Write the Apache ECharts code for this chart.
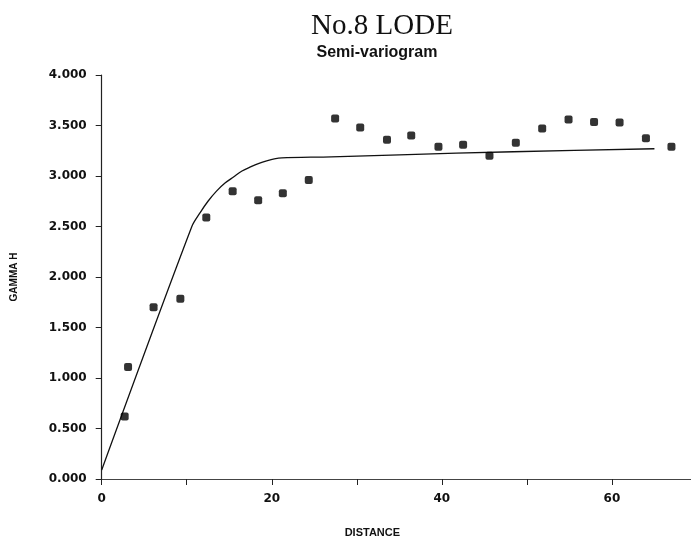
<!DOCTYPE html>
<html>
<head>
<meta charset="utf-8">
<script src="https://cdn.jsdelivr.net/npm/echarts@6/dist/echarts.min.js"></script>
<style>html,body{margin:0;padding:0;background:#fff;}#c{width:691px;height:543px;}</style>
</head>
<body>
<div id="c"></div>
<script>
// Observed semi-variogram points
var lagDistance = [2.7, 3.1, 6.1, 9.25, 12.3, 15.4, 18.4, 21.3, 24.35, 27.45, 30.4, 33.55, 36.4, 39.6, 42.5, 45.6, 48.7, 51.8, 54.9, 57.9, 60.9, 64.0, 67.0];
var gammaValues = [0.62, 1.11, 1.70, 1.785, 2.59, 2.85, 2.76, 2.83, 2.96, 3.57, 3.48, 3.36, 3.40, 3.29, 3.31, 3.20, 3.33, 3.47, 3.56, 3.535, 3.53, 3.375, 3.29];
// Fitted model curve
var modelDistance = [0, 10.6, 11.6, 12.5, 13.5, 14.5, 15.5, 16.5, 17.5, 18.5, 19.4, 20.3, 21.2, 27, 35, 48.4, 65];
var modelGamma = [0.09, 2.50, 2.64, 2.75, 2.85, 2.93, 2.99, 3.05, 3.09, 3.125, 3.15, 3.17, 3.18, 3.19, 3.21, 3.24, 3.27];
var xTicks = [0, 20, 40, 60];

var pts = lagDistance.map(function (d, i) { return [d, gammaValues[i]]; });
var model = modelDistance.map(function (d, i) { return [d, modelGamma[i]]; });

var chart = echarts.init(document.getElementById('c'), null, {renderer: 'canvas'});
var labelFont = {color: '#111', fontFamily: 'DejaVu Sans', fontWeight: 'bold', fontSize: 12};
chart.setOption({
  animation: false,
  backgroundColor: '#fff',
  title: [
    {text: 'No.8 LODE', left: 377, top: 7, textAlign: 'center',
     textStyle: {fontFamily: 'Liberation Serif', fontWeight: 'normal', fontSize: 29, color: '#111'}},
    {text: 'Semi-variogram', left: 372, top: 40, textAlign: 'center',
     textStyle: {fontFamily: 'Liberation Sans', fontWeight: 'bold', fontSize: 16, color: '#111'}}
  ],
  grid: {left: 101.7, top: 75, bottom: 52, right: 0, show: false},
  xAxis: [{
    type: 'value', min: 0, max: 69.3, interval: 10,
    name: 'DISTANCE', nameLocation: 'middle', nameGap: 48,
    nameTextStyle: {fontFamily: 'Liberation Sans', fontWeight: 'bold', fontSize: 11, color: '#111', padding: [0, 48, 0, 0]},
    axisLine: {show: true, onZero: false, lineStyle: {color: '#222', width: 1}},
    axisTick: {show: true, length: 6, lineStyle: {color: '#222'}},
    splitLine: {show: false},
    axisLabel: Object.assign({margin: 14, showMaxLabel: false, formatter: function (v) { return xTicks.indexOf(v) >= 0 ? String(v) : ''; }}, labelFont)
  }, {
    type: 'value', min: 0, max: 69.3, position: 'top',
    axisLine: {show: true, lineStyle: {color: '#444', width: 1}},
    axisTick: {show: false}, axisLabel: {show: false}, splitLine: {show: false}
  }],
  yAxis: {
    type: 'value', min: 0, max: 4, interval: 0.5,
    name: 'GAMMA H', nameLocation: 'middle', nameGap: 82, nameRotate: 90,
    nameTextStyle: {fontFamily: 'Liberation Sans', fontWeight: 'bold', fontSize: 10, color: '#111'},
    axisLine: {show: true, lineStyle: {color: '#222', width: 1.2}},
    axisTick: {show: true, length: 6, lineStyle: {color: '#222'}},
    splitLine: {show: false},
    axisLabel: Object.assign({margin: 15, formatter: function (v) { return v.toFixed(3); }}, labelFont)
  },
  series: [
    {type: 'line', data: model, showSymbol: false, smooth: 0.3, lineStyle: {color: '#111', width: 1.3}, z: 2},
    {type: 'scatter', data: pts, symbol: 'roundRect', symbolSize: 8, itemStyle: {color: '#000'}, z: 3}
  ]
});
</script>
</body>
</html>
